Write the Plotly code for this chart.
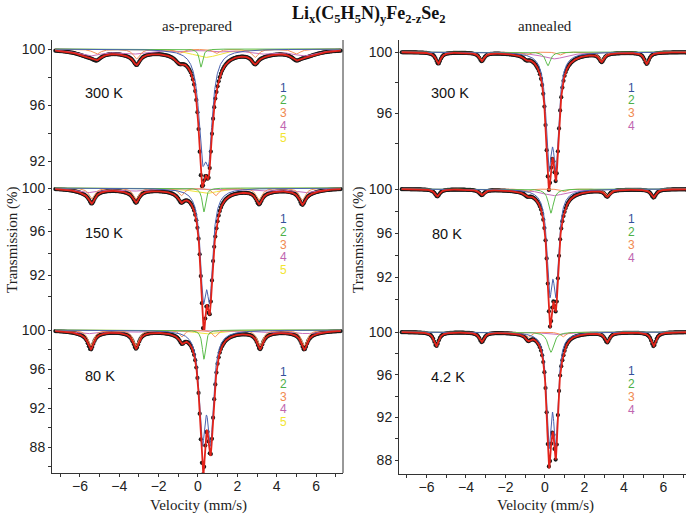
import numpy as np
import plotly.graph_objects as go

# channel velocities of the spectrometer (mm/s) and a finer grid for the fitted curves
channels = np.linspace(-7.25, 7.25, 256)
fine_v = np.linspace(-7.25, 7.25, 1451)

# Lorentzian lines of every subspectrum:
# (centre mm/s, depth %, half width mm/s)
# as-prepared, 300 K
prep300_1 = [(0.22, 6.3, 0.22), (0.55, 6.3, 0.22)]
prep300_2 = [(0.15, 1.3, 0.10)]
prep300_3 = [(-5.15, 0.35, 0.25), (-3.12, 0.70, 0.20), (-0.95, 0.30, 0.20),
             (0.95, 0.30, 0.20), (2.90, 0.60, 0.20), (5.00, 0.35, 0.25)]
prep300_4 = [(-5.5, 0.45, 0.80), (-3.3, 0.30, 0.80), (-1.0, 0.15, 0.50),
             (1.0, 0.15, 0.50), (3.2, 0.30, 0.80), (5.4, 0.45, 0.80)]
prep300_5 = [(0.40, 0.60, 0.90)]
# as-prepared, 150 K
prep150_1 = [(0.27, 8.6, 0.18), (0.60, 8.6, 0.18)]
prep150_2 = [(0.30, 2.2, 0.10)]
prep150_3 = [(-5.40, 1.0, 0.18), (-3.15, 1.0, 0.18), (-0.85, 0.7, 0.18),
             (0.90, 0.7, 0.18), (3.10, 1.1, 0.18), (5.30, 1.1, 0.18)]
prep150_4 = [(-5.6, 0.40, 0.7), (-3.3, 0.25, 0.7), (-1.0, 0.10, 0.5),
             (1.0, 0.10, 0.5), (3.3, 0.25, 0.7), (5.5, 0.40, 0.7)]
prep150_5 = [(0.40, 0.50, 0.80)]
# as-prepared, 80 K
prep80_1 = [(0.22, 10.3, 0.18), (0.64, 10.3, 0.18)]
prep80_2 = [(0.30, 3.0, 0.10)]
prep80_3 = [(-5.45, 1.6, 0.18), (-3.15, 1.6, 0.18), (-0.82, 0.7, 0.15),
            (0.85, 0.7, 0.15), (3.15, 1.6, 0.18), (5.40, 1.6, 0.18)]
prep80_4 = [(-5.6, 0.35, 0.8), (-3.3, 0.20, 0.7), (-1.0, 0.10, 0.5),
            (1.0, 0.10, 0.5), (3.3, 0.20, 0.7), (5.5, 0.35, 0.8)]
prep80_5 = [(0.40, 0.40, 0.70)]
# annealed, 300 K
ann300_1 = [(0.20, 6.6, 0.17), (0.56, 6.6, 0.17)]
ann300_2 = [(0.15, 0.9, 0.15)]
ann300_3 = [(-5.40, 0.75, 0.15), (-3.20, 0.55, 0.15), (-0.95, 0.20, 0.15),
            (0.75, 0.20, 0.15), (2.87, 0.55, 0.15), (5.15, 0.75, 0.15)]
ann300_4 = [(0.45, 0.45, 0.80)]
# annealed, 80 K
ann80_1 = [(0.24, 8.2, 0.16), (0.56, 8.2, 0.16)]
ann80_2 = [(0.30, 2.2, 0.15)]
ann80_3 = [(-5.45, 0.65, 0.15), (-3.20, 0.50, 0.15), (-0.90, 0.25, 0.15),
           (0.95, 0.25, 0.15), (3.15, 0.60, 0.15), (5.50, 0.75, 0.15)]
ann80_4 = [(0.45, 0.60, 0.80)]
# annealed, 4.2 K
ann4_1 = [(0.20, 9.6, 0.14), (0.55, 9.6, 0.14)]
ann4_2 = [(0.30, 1.9, 0.18)]
ann4_3 = [(-5.50, 1.3, 0.15), (-3.20, 0.9, 0.15), (-0.85, 0.5, 0.15),
          (0.90, 0.45, 0.15), (3.15, 0.9, 0.15), (5.50, 1.3, 0.15)]
ann4_4 = [(0.50, 0.25, 0.60)]

temps_prep = ['300 K', '150 K', '80 K']
temps_ann = ['300 K', '80 K', '4.2 K']

comp_colors = ['#4a62b0', '#5cbc4c', '#f5915a', '#c870bd', '#f0e43c']
label_colors = ['#34509c', '#4cb048', '#f08a50', '#c066b0', '#f2e530']

W, H = 686, 515


def px(x):
    return x / W


def py(y):
    return 1 - y / H


def absorption(v, lines):
    # sum of the Lorentzian lines, in % of absorption
    out = np.zeros_like(v)
    for c, d, g in lines:
        out += d / (1 + ((v - c) / g) ** 2)
    return out


# (x axis, y axis, subspectra, temperature, label x, label y, numbers x, numbers y)
panels = [
    ('x', 'y', [prep300_1, prep300_2, prep300_3, prep300_4, prep300_5], temps_prep[0], 83, 93, 283, [88, 100, 113, 126, 138]),
    ('x', 'y2', [prep150_1, prep150_2, prep150_3, prep150_4, prep150_5], temps_prep[1], 83, 233, 283, [219, 232, 245, 257, 270]),
    ('x', 'y3', [prep80_1, prep80_2, prep80_3, prep80_4, prep80_5], temps_prep[2], 83, 376, 283, [372, 384, 397, 409, 422]),
    ('x2', 'y4', [ann300_1, ann300_2, ann300_3, ann300_4], temps_ann[0], 429, 93, 631, [88, 100, 113, 126]),
    ('x2', 'y5', [ann80_1, ann80_2, ann80_3, ann80_4], temps_ann[1], 430, 234, 631, [219, 232, 245, 258]),
    ('x2', 'y6', [ann4_1, ann4_2, ann4_3, ann4_4], temps_ann[2], 429, 377, 631, [371, 384, 397, 410]),
]

fig = go.Figure()
annotations = []


def note(x, y, text, font, xanchor='center', angle=0):
    return dict(x=px(x), y=py(y), xref='paper', yref='paper', text=text, showarrow=False,
                xanchor=xanchor, yanchor='middle', textangle=angle, font=font)


for xa, ya, comps, temp, tx, ty, nx, nys in panels:
    total = np.zeros_like(fine_v)
    for lines in comps:
        total += absorption(fine_v, lines)
    points = 100 - sum(absorption(channels, lines) for lines in comps)

    # measured points
    fig.add_trace(go.Scatter(x=channels, y=points, xaxis=xa, yaxis=ya, mode='markers',
                             marker=dict(size=4.2, color='#1a1a1a'), hoverinfo='skip'))
    # subspectra, blue on top
    for i in reversed(range(len(comps))):
        fig.add_trace(go.Scatter(x=fine_v, y=100 - absorption(fine_v, comps[i]), xaxis=xa, yaxis=ya,
                                 mode='lines', line=dict(color=comp_colors[i], width=1), hoverinfo='skip'))
    # total fit
    fig.add_trace(go.Scatter(x=fine_v, y=100 - total, xaxis=xa, yaxis=ya, mode='lines',
                             line=dict(color='#e2231a', width=1.8), hoverinfo='skip'))

    annotations.append(note(tx, ty, temp, dict(family='Liberation Sans, Arial', size=14.5, color='#111'),
                            xanchor='left'))
    for i, ny in enumerate(nys):
        annotations.append(note(nx, ny, str(i + 1),
                                dict(family='Liberation Sans, Arial', size=12, color=label_colors[i])))

tick_font = dict(family='Liberation Sans, Arial', size=14, color='#222')
serif = 'Liberation Serif, Times New Roman'
text_font = dict(family=serif, size=15, color='#222')


def yaxis(top, bottom, y100, scale, labels, minor, anchor):
    # pixel box of a panel and its scale (pixels per %)
    return dict(domain=[py(bottom), py(top)], anchor=anchor,
                range=[100 - (bottom - y100) / scale, 100 + (y100 - top) / scale],
                tickmode='array', tickvals=labels, ticktext=[str(t) for t in labels],
                ticks='outside', ticklen=3, tickcolor='#333', tickfont=tick_font,
                minor=dict(tickmode='array', tickvals=minor, ticks='outside', ticklen=3, tickcolor='#333'),
                showline=True, linecolor='#333', linewidth=1,
                showgrid=False, zeroline=False)


def xaxis(left, right, rng, anchor):
    return dict(domain=[px(left), px(right)], anchor=anchor, range=rng,
                tickmode='array', tickvals=[-6, -4, -2, 0, 2, 4, 6],
                ticks='outside', ticklen=3, tickcolor='#333', tickfont=tick_font,
                ticklabelstandoff=-3,
                minor=dict(tickmode='array', tickvals=[-7, -5, -3, -1, 1, 3, 5, 7],
                           ticks='outside', ticklen=3, tickcolor='#333'),
                showline=True, linecolor='#333', linewidth=1,
                showgrid=False, zeroline=False)


def top_axis(over, rng, anchor):
    return dict(overlaying=over, side='top', anchor=anchor, range=rng,
                tickmode='linear', tick0=0, dtick=1, ticks='inside', ticklen=3,
                tickcolor='#333', showticklabels=False,
                showline=True, linecolor='#333', linewidth=1,
                showgrid=False, zeroline=False)


left_range = [-7.42, 7.37]
right_range = [-7.39, 7.14]

annotations += [
    note(369, 14, '<b>Li<sub>x</sub>(C<sub>5</sub>H<sub>5</sub>N)<sub>y</sub>Fe<sub>2-z</sub>Se<sub>2</sub></b>',
         dict(family=serif, size=18, color='#111')),
    note(197, 26, 'as-prepared', text_font),
    note(545, 26, 'annealed', text_font),
    note(12, 240, 'Transmission (%)', text_font, angle=-90),
    note(358, 240, 'Transmission (%)', text_font, angle=-90),
    note(198, 505, 'Velocity (mm/s)', text_font),
    note(545, 505, 'Velocity (mm/s)', text_font),
]

fig.update_layout(
    width=W, height=H, template='none', showlegend=False,
    margin=dict(l=0, r=0, t=0, b=0),
    paper_bgcolor='white', plot_bgcolor='rgba(0,0,0,0)',
    xaxis=xaxis(52, 343, left_range, 'y3'),
    xaxis2=xaxis(399, 686, right_range, 'y6'),
    xaxis3=top_axis('x', left_range, 'y'),
    xaxis4=top_axis('x2', right_range, 'y4'),
    yaxis=yaxis(40, 190, 49, 14.0, [100, 96, 92], [98, 94], 'x'),
    yaxis2=yaxis(184, 330, 188, 10.875, [100, 96, 92], [98, 94, 90], 'x'),
    yaxis3=yaxis(326, 473, 330, 9.75, [100, 96, 92, 88], [98, 94, 90, 86], 'x'),
    yaxis4=yaxis(40, 197, 52, 15.25, [100, 96], [98, 94], 'x2'),
    yaxis5=yaxis(184, 334, 189, 11.0, [100, 96, 92], [98, 94, 90], 'x2'),
    yaxis6=yaxis(326, 474, 332, 10.67, [100, 96, 92, 88], [98, 94, 90], 'x2'),
    annotations=annotations,
    shapes=[dict(type='line', xref='paper', yref='paper', x0=px(343), x1=px(343), y0=py(40), y1=py(473),
                 line=dict(color='#333', width=1))],
)

# the page's default body margin would shift the 686x515 figure off the window
fig.write_html("out.html", config={'displayModeBar': False},
               post_script="document.body.style.margin = '0px';")
